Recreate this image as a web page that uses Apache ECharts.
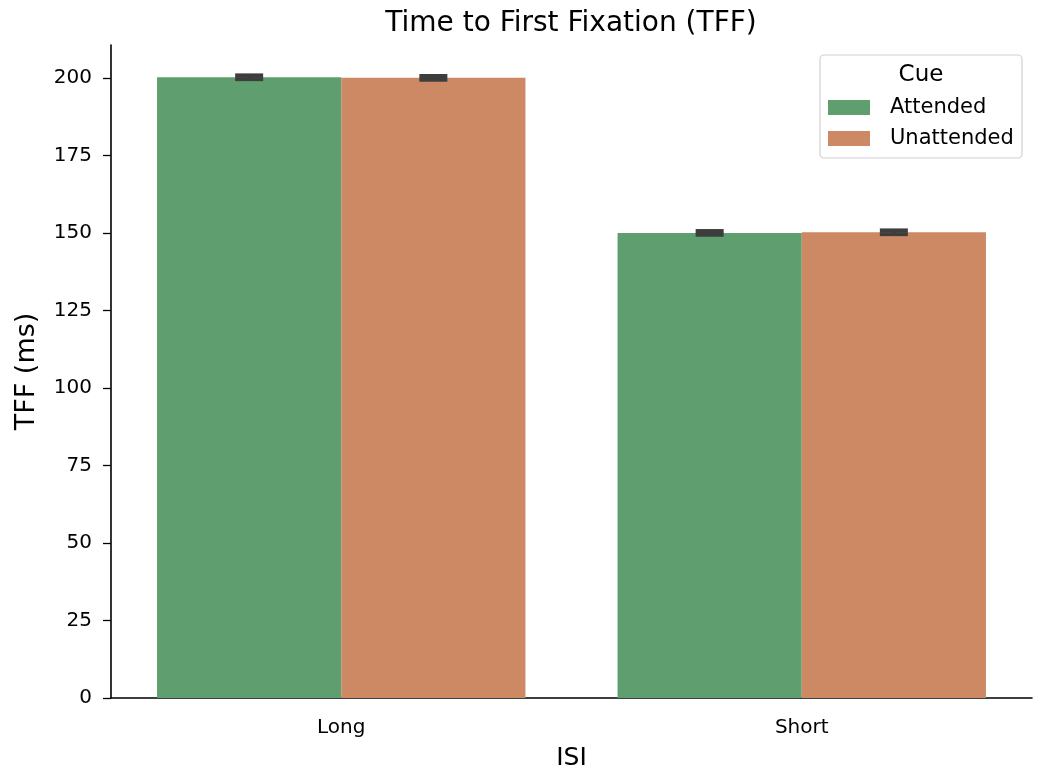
<!DOCTYPE html>
<html>
<head>
<meta charset="utf-8">
<script src="https://cdn.jsdelivr.net/npm/echarts@6/dist/echarts.min.js"></script>
<style>
  html, body { margin: 0; padding: 0; background: #fff; }
  #chart { width: 1038px; height: 771px; }
</style>
</head>
<body>
<div id="chart"></div>
<script>
// ISI conditions on the x axis
const categories = ['Long', 'Short'];
// Mean time to first fixation (ms) for each cue condition
const attended = [200.2, 150.0];
const unattended = [200.0, 150.2];
// Half-width of the 95% confidence interval (ms)
const attendedErr = [0.6, 0.6];
const unattendedErr = [0.6, 0.6];
const yTicks = [0, 25, 50, 75, 100, 125, 150, 175, 200];

const GREEN = '#5f9e6e';
const ORANGE = '#cc8963';
const FONT = 'DejaVu Sans';

const chart = echarts.init(document.getElementById('chart'));

// error bars: [categoryIndex, low, high, groupIndex]
const errData = [];
categories.forEach((c, i) => {
  errData.push([i, attended[i] - attendedErr[i], attended[i] + attendedErr[i], 0]);
  errData.push([i, unattended[i] - unattendedErr[i], unattended[i] + unattendedErr[i], 1]);
});

function renderErr(params, api) {
  const ci = api.value(0);
  const lo = api.coord([ci, api.value(1)]);
  const hi = api.coord([ci, api.value(2)]);
  const band = api.size([1, 0])[0];
  const barW = band * 0.8 / 2;
  const g = api.value(3);
  const x = lo[0] + (g === 0 ? -barW / 2 : barW / 2);
  const cap = 14;
  const style = { stroke: '#3d3d3d', lineWidth: 4 };
  return {
    type: 'group',
    children: [
      { type: 'line', shape: { x1: x, y1: lo[1], x2: x, y2: hi[1] }, style },
      { type: 'line', shape: { x1: x - cap, y1: lo[1], x2: x + cap, y2: lo[1] }, style },
      { type: 'line', shape: { x1: x - cap, y1: hi[1], x2: x + cap, y2: hi[1] }, style }
    ]
  };
}

chart.setOption({
  animation: false,
  backgroundColor: '#fff',
  title: {
    text: 'Time to First Fixation (TFF)',
    left: 566,
    textAlign: 'center',
    top: 5,
    textStyle: { fontFamily: FONT, fontSize: 28, fontWeight: 'normal', color: '#000' }
  },
  grid: { left: 111, right: 6, top: 45, bottom: 73, outerBoundsMode: 'none' },
  legend: {
    left: 823,
    top: 92,
    orient: 'vertical',
    itemWidth: 42,
    itemHeight: 15,
    itemGap: 10,
    icon: 'rect',
    data: ['Attended', 'Unattended'],
    textStyle: { fontFamily: FONT, fontSize: 21, color: '#000', padding: [0, 0, 0, 15] }
  },
  graphic: [
    {
      type: 'rect',
      shape: { x: 820, y: 55, width: 202, height: 103, r: 4 },
      style: { fill: 'rgba(255,255,255,0.8)', stroke: '#d0d0d0', lineWidth: 1.2 },
      z: 0
    },
    {
      type: 'text',
      x: 921, y: 75,
      style: { text: 'Cue', fontFamily: FONT, fontSize: 23, fill: '#000', align: 'center', verticalAlign: 'middle' },
      z: 10
    }
  ],
  xAxis: {
    type: 'category',
    data: categories,
    name: 'ISI',
    nameLocation: 'middle',
    nameGap: 48,
    nameTextStyle: { fontFamily: FONT, fontSize: 25, color: '#000' },
    axisLine: { lineStyle: { color: '#000', width: 1.6 } },
    axisTick: { alignWithLabel: true, length: 8, lineStyle: { color: '#000', width: 1.3 } },
    axisLabel: { fontFamily: FONT, fontSize: 20, color: '#000', margin: 20 }
  },
  yAxis: {
    type: 'value',
    min: 0,
    max: 210.6,
    interval: 25,
    name: 'TFF (ms)',
    nameLocation: 'middle',
    nameGap: 71,
    nameTextStyle: { fontFamily: FONT, fontSize: 27, color: '#000' },
    splitLine: { show: false },
    axisLine: { show: true, lineStyle: { color: '#000', width: 1.6 } },
    axisTick: { show: true, length: 8, customValues: yTicks, lineStyle: { color: '#000', width: 1.3 } },
    axisLabel: { fontFamily: FONT, fontSize: 20, color: '#000', margin: 19, customValues: yTicks }
  },
  series: [
    {
      name: 'Attended',
      type: 'bar',
      data: attended,
      barGap: '0%',
      barCategoryGap: '20%',
      itemStyle: { color: GREEN }
    },
    {
      name: 'Unattended',
      type: 'bar',
      data: unattended,
      barGap: '0%',
      barCategoryGap: '20%',
      itemStyle: { color: ORANGE }
    },
    {
      type: 'custom',
      renderItem: renderErr,
      data: errData,
      encode: { x: 0, y: [1, 2] },
      z: 5,
      silent: true
    }
  ]
});
</script>
</body>
</html>
